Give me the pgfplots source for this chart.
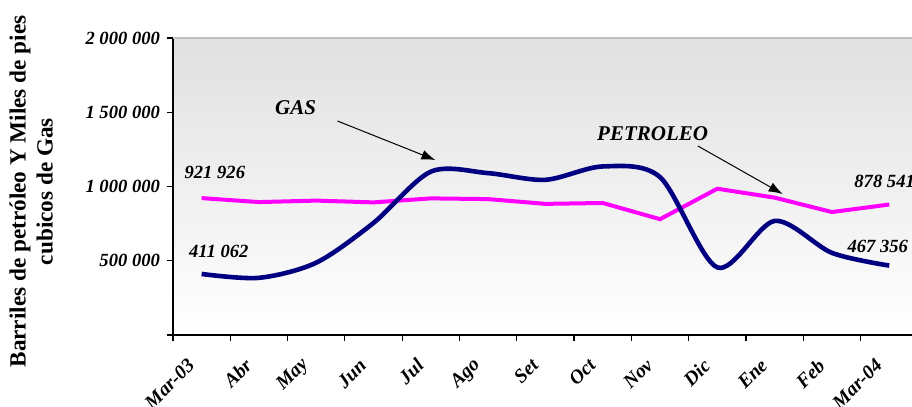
\documentclass[border=0pt]{standalone}
\usepackage{fontspec}
\setmainfont{Liberation Serif}
\usepackage{pgfplots}
\usepackage{pgfplotstable}
\pgfplotsset{compat=1.18}
\usetikzlibrary{arrows.meta}

\definecolor{gasblue}{HTML}{000080}
\definecolor{petmag}{HTML}{FF00FF}

% month index, gas (miles de pies cubicos), petroleo (barriles)
\pgfplotstableread{
idx gas petroleo
0 411062 921926
1 385000 895000
2 487000 905000
3 755000 893000
4 1100000 920000
5 1090000 915000
6 1045000 883000
7 1135000 889000
8 1063000 780000
9 455000 985000
10 768000 925000
11 553000 828000
12 467356 878541
}\datatable

\newcommand{\bi}{\fontsize{9.3}{11}\selectfont\bfseries\itshape}

\begin{document}
\begin{tikzpicture}
\useasboundingbox (-86.5pt,-36pt) rectangle (369.5pt,167.5pt);
\begin{axis}[
  scale only axis,
  width=369.5pt, height=148.5pt,
  xmin=-0.5, xmax=12.397,
  ymin=0, ymax=2000000,
  clip=false,
  axis x line=bottom, axis y line=left,
  axis line style={-, line width=0.8pt},
  axis background/.style={top color=black!12, bottom color=white},
  tick align=outside,
  major tick length=3pt, minor tick length=3pt,
  tick style={black, line width=0.6pt},
  xtick={0,...,12},
  xticklabels={Mar-03,Abr,May,Jun,Jul,Ago,Set,Oct,Nov,Dic,Ene,Feb,Mar-04},
  major x tick style={draw=none},
  minor xtick={-0.5,0.5,...,11.5},
  xticklabel style={font=\fontsize{9.8}{11}\selectfont\bfseries\itshape,
    xshift=-2.8pt, yshift=-8.2pt, rotate=45, anchor=east},
  ytick={0,500000,1000000,1500000,2000000},
  yticklabels={,500 000,1 000 000,1 500 000,2 000 000},
  yticklabel style={font=\bi},
  scaled y ticks=false,
  ylabel={Barriles de petróleo Y Miles de pies\\cubicos de Gas},
  ylabel style={at={(rel axis cs:-0.192,0.483)}, anchor=center, align=center,
    font=\fontsize{11.6}{13.5}\selectfont\bfseries},
]
\draw[black!25, line width=1pt] (rel axis cs:0,1) -- (rel axis cs:1,1);

\addplot[color=petmag, line width=2pt, no markers] table[x=idx, y=petroleo] {\datatable};
\addplot[color=gasblue, line width=2.3pt, no markers, smooth] table[x=idx, y=gas] {\datatable};

\node[font=\bi] at (axis cs:0.23,1097600) {921 926};
\node[font=\bi] at (axis cs:0.30,565600) {411 062};
\node[font=\bi] at (axis cs:11.92,1037000) {878 541};
\node[font=\bi] at (axis cs:11.8,599300) {467 356};

\node[font=\fontsize{10.5}{12}\selectfont\bfseries\itshape] at (axis cs:1.64,1528600) {GAS};
\draw[-{Latex[length=7pt,width=5pt]}, line width=0.5pt] (axis cs:2.37,1441000) -- (axis cs:4.08,1178000);
\node[font=\fontsize{10.5}{12}\selectfont\bfseries\itshape] at (axis cs:7.87,1353500) {PETROLEO};
\draw[-{Latex[length=7pt,width=5pt]}, line width=0.5pt] (axis cs:8.66,1272700) -- (axis cs:10.14,949500);
\end{axis}
\end{tikzpicture}
\end{document}
